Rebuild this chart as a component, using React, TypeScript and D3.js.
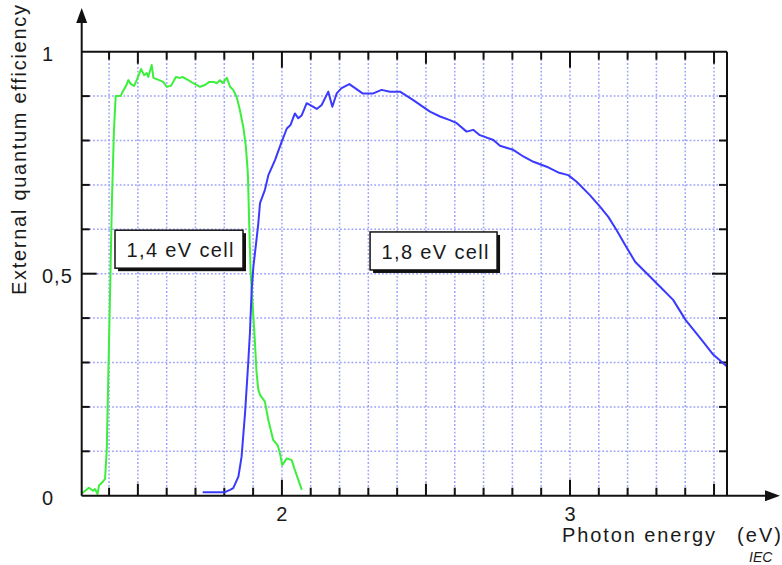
import React from "react";
import * as d3 from "d3";

const greenEnergy = [1.305,1.330,1.344,1.351,1.360,1.365,1.379,1.386,1.392,1.397,1.403,1.410,1.417,1.423,1.440,1.447,1.459,1.467,1.476,1.487,1.496,1.511,1.522,1.531,1.536,1.548,1.554,1.574,1.588,1.600,1.615,1.632,1.646,1.656,1.675,1.692,1.716,1.733,1.748,1.762,1.774,1.785,1.794,1.809,1.820,1.831,1.843,1.854,1.866,1.875,1.882,1.887,1.891,1.897,1.904,1.912,1.918,1.924,1.941,1.953,1.970,1.985,1.993,2.001,2.017,2.034,2.045,2.069];
const greenEQE = [0.005,0.018,0.011,0.015,0.004,0.023,0.032,0.038,0.103,0.261,0.441,0.666,0.824,0.900,0.900,0.910,0.923,0.936,0.927,0.923,0.936,0.961,0.947,0.952,0.943,0.970,0.941,0.936,0.932,0.921,0.923,0.943,0.941,0.943,0.936,0.929,0.921,0.925,0.932,0.932,0.929,0.936,0.929,0.941,0.921,0.914,0.898,0.869,0.830,0.786,0.723,0.599,0.509,0.441,0.373,0.277,0.239,0.227,0.212,0.170,0.125,0.114,0.096,0.069,0.084,0.080,0.058,0.013];

const blueEnergy = [1.725,1.802,1.820,1.831,1.849,1.860,1.872,1.883,1.889,1.895,1.901,1.909,1.918,1.924,1.941,1.953,1.976,1.999,2.017,2.030,2.045,2.057,2.069,2.086,2.097,2.121,2.138,2.161,2.175,2.190,2.207,2.234,2.254,2.280,2.317,2.346,2.375,2.410,2.456,2.514,2.549,2.583,2.607,2.641,2.664,2.687,2.734,2.757,2.803,2.838,2.873,2.919,2.959,2.994,3.023,3.069,3.104,3.133,3.162,3.191,3.226,3.266,3.312,3.358,3.401,3.457,3.497,3.545];
const blueEQE = [0.008,0.008,0.013,0.017,0.043,0.088,0.186,0.299,0.367,0.463,0.516,0.561,0.613,0.659,0.689,0.722,0.756,0.797,0.827,0.835,0.861,0.850,0.857,0.884,0.880,0.871,0.880,0.910,0.876,0.906,0.918,0.927,0.918,0.906,0.906,0.914,0.910,0.910,0.891,0.865,0.854,0.846,0.839,0.820,0.824,0.812,0.801,0.788,0.779,0.764,0.752,0.741,0.728,0.722,0.707,0.677,0.651,0.628,0.598,0.565,0.527,0.501,0.471,0.441,0.396,0.351,0.318,0.291];

const xTickLabels = [2, 3];
const yTickLabels = [0, 0.5, 1];
const boxLabels = ["1,4 eV cell", "1,8 eV cell"];
const boxEnergy = [1.4206, 2.306];
const boxEQE = [0.598, 0.594];

const FONT = "'Liberation Sans', Arial, Helvetica, sans-serif";
const TXT = "#1a1a1a";

export default function App() {
  const x = d3.scaleLinear().domain([1.305, 3.545]).range([81.7, 727]);
  const y = d3.scaleLinear().domain([0, 1]).range([495.7, 51.7]);
  const line = d3.line<[number, number]>().x((d) => x(d[0])).y((d) => y(d[1]));
  const green: [number, number][] = greenEnergy.map((e, i) => [e, greenEQE[i]]);
  const blue: [number, number][] = blueEnergy.map((e, i) => [e, blueEQE[i]]);

  const xGrid = d3.range(14, 36);
  const yGrid = d3.range(1, 10);
  const x0 = x(1.305), x1 = x(3.545), y0 = y(0), y1 = y(1);
  const gridColor = "#9da2fb";

  const xLen = (i: number) => (i % 10 === 0 ? 16 : i % 5 === 0 ? 12 : 8);
  const yLen = (i: number) => (i === 5 ? 15 : 8);

  return (
    <svg width={782} height={565} style={{ position: "absolute", left: 0, top: 0, background: "#fff" }}>
      <rect x={0} y={0} width={782} height={565} fill="#fff" />
      {/* grid */}
      <g stroke={gridColor} strokeWidth={1.5} strokeDasharray="1.8,2">
        {xGrid.map((i) => (
          <line key={"gx" + i} x1={x(i / 10)} x2={x(i / 10)} y1={y1} y2={y0} />
        ))}
        {yGrid.map((i) => (
          <line key={"gy" + i} x1={x0} x2={x1} y1={y(i / 10)} y2={y(i / 10)} />
        ))}
      </g>
      {/* ticks */}
      <g stroke="#111" strokeWidth={2}>
        {xGrid.map((i) => (
          <g key={"tx" + i}>
            <line x1={x(i / 10)} x2={x(i / 10)} y1={y0} y2={y0 - xLen(i)} />
            <line x1={x(i / 10)} x2={x(i / 10)} y1={y1} y2={y1 + xLen(i)} />
          </g>
        ))}
        {yGrid.map((i) => (
          <g key={"ty" + i}>
            <line x1={x0} x2={x0 + yLen(i)} y1={y(i / 10)} y2={y(i / 10)} />
            <line x1={x1} x2={x1 - yLen(i)} y1={y(i / 10)} y2={y(i / 10)} />
          </g>
        ))}
      </g>
      {/* curves */}
      <path d={line(green) || ""} fill="none" stroke="#3cef3c" strokeWidth={2} strokeLinejoin="round" />
      <path d={line(blue) || ""} fill="none" stroke="#3a3aff" strokeWidth={2} strokeLinejoin="round" />
      {/* frame & axes */}
      <g stroke="#111" strokeWidth={2} fill="none">
        <line x1={x0} x2={x1} y1={y1} y2={y1} />
        <line x1={x1} x2={x1} y1={y1} y2={y0} />
        <line x1={x0} x2={x0} y1={y0} y2={20} />
        <line x1={x0} x2={768} y1={y0} y2={y0} />
      </g>
      <path d={`M${x0},8 L${x0 - 5.5},23 L${x0 + 5.5},23 Z`} fill="#111" />
      <path d={`M780,${y0} L765,${y0 - 5.5} L765,${y0 + 5.5} Z`} fill="#111" />
      {/* tick labels */}
      <g fontFamily={FONT} fontSize={20} fill={TXT}>
        {yTickLabels.map((v) => (
          <text key={"yl" + v} x={42} y={y(v) + 9.5} letterSpacing={1}>
            {String(v).replace(".", ",")}
          </text>
        ))}
        {xTickLabels.map((v) => (
          <text key={"xl" + v} x={x(v)} y={521} textAnchor="middle">
            {String(v)}
          </text>
        ))}
        <text x={562} y={542} textLength={153} lengthAdjust="spacing">Photon energy</text>
        <text x={737} y={542} textLength={44} lengthAdjust="spacing">(eV)</text>
        <text
          x={0}
          y={0}
          transform="translate(26,295) rotate(-90)"
          textLength={290}
          lengthAdjust="spacing"
        >
          External quantum efficiency
        </text>
      </g>
      <text x={749} y={562} fontFamily={FONT} fontSize={14} fontStyle="italic" fill={TXT}>IEC</text>
      {/* annotation boxes */}
      {boxLabels.map((t, i) => {
        const bx = x(boxEnergy[i]);
        const by = y(boxEQE[i]);
        const w = i === 0 ? 128 : 127;
        const h = 38;
        return (
          <g key={"box" + i}>
            <rect x={bx + 3} y={by + 3} width={w} height={h} fill="#111" />
            <rect x={bx} y={by} width={w} height={h} fill="#fff" stroke="#111" strokeWidth={1.5} />
            <text
              x={bx + 11.5}
              y={by + 27}
              fontFamily={FONT}
              fontSize={20}
              fill={TXT}
              textLength={107}
              lengthAdjust="spacing"
            >
              {t}
            </text>
          </g>
        );
      })}
    </svg>
  );
}
